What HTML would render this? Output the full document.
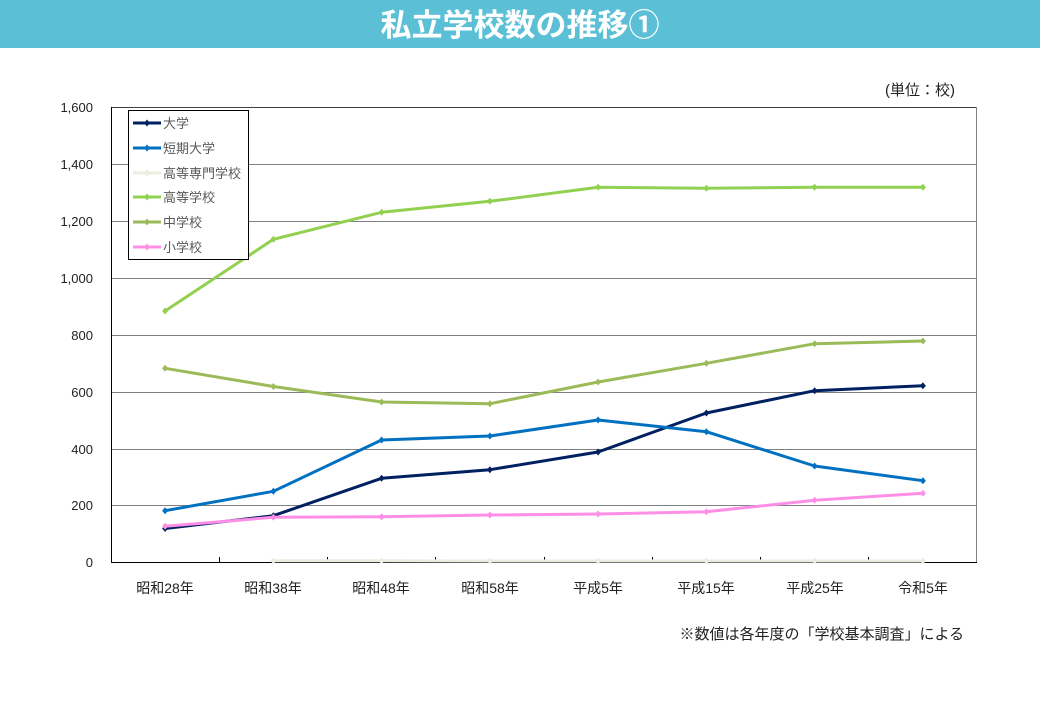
<!DOCTYPE html>
<html><head><meta charset="utf-8">
<style>
html,body{margin:0;padding:0;background:#fff;}
body{width:1040px;height:720px;overflow:hidden;font-family:"Liberation Sans","Noto Sans CJK JP",sans-serif;}
</style></head>
<body>
<svg width="1040" height="720" xmlns="http://www.w3.org/2000/svg" style="display:block;font-family:'Liberation Sans','Noto Sans CJK JP',sans-serif">
<rect x="0" y="0" width="1040" height="48" fill="#5BC0D6"/>
<text x="520" y="36" text-anchor="middle" font-size="31" font-weight="bold" fill="#fff">私立学校数の推移①</text>
<text x="955" y="95" text-anchor="end" font-size="15" fill="#222">(単位：校)</text>

<!-- gridlines -->
<g stroke="#808080" stroke-width="1">
<line x1="111" y1="164.5" x2="977" y2="164.5"/>
<line x1="111" y1="221.5" x2="977" y2="221.5"/>
<line x1="111" y1="278.5" x2="977" y2="278.5"/>
<line x1="111" y1="335.5" x2="977" y2="335.5"/>
<line x1="111" y1="392.5" x2="977" y2="392.5"/>
<line x1="111" y1="449.5" x2="977" y2="449.5"/>
<line x1="111" y1="505.5" x2="977" y2="505.5"/>
</g>
<line x1="111" y1="107.5" x2="977" y2="107.5" stroke="#404040" stroke-width="1"/>
<line x1="976.5" y1="107" x2="976.5" y2="562" stroke="#808080" stroke-width="1"/>
<line x1="111.5" y1="107" x2="111.5" y2="562" stroke="#000" stroke-width="1"/>
<line x1="111" y1="562.5" x2="977" y2="562.5" stroke="#000" stroke-width="1"/>
<g stroke="#000" stroke-width="1">
<line x1="219.5" y1="557" x2="219.5" y2="562"/>
<line x1="327.5" y1="557" x2="327.5" y2="562"/>
<line x1="435.5" y1="557" x2="435.5" y2="562"/>
<line x1="544.5" y1="557" x2="544.5" y2="562"/>
<line x1="652.5" y1="557" x2="652.5" y2="562"/>
<line x1="760.5" y1="557" x2="760.5" y2="562"/>
<line x1="868.5" y1="557" x2="868.5" y2="562"/>
</g>

<!-- y labels -->
<g font-size="13" fill="#222" text-anchor="end">
<text x="93" y="112">1,600</text>
<text x="93" y="169">1,400</text>
<text x="93" y="226">1,200</text>
<text x="93" y="283">1,000</text>
<text x="93" y="340">800</text>
<text x="93" y="397">600</text>
<text x="93" y="454">400</text>
<text x="93" y="510">200</text>
<text x="93" y="567">0</text>
</g>
<!-- x labels -->
<g font-size="14" fill="#222" text-anchor="middle">
<text x="165" y="593">昭和28年</text>
<text x="273" y="593">昭和38年</text>
<text x="381" y="593">昭和48年</text>
<text x="490" y="593">昭和58年</text>
<text x="598" y="593">平成5年</text>
<text x="706" y="593">平成15年</text>
<text x="815" y="593">平成25年</text>
<text x="923" y="593">令和5年</text>
</g>

<defs>
<path id="dm" d="M0,-3.5 L3,0 L0,3.5 L-3,0 Z"/>
</defs>

<!-- 大学 -->
<g fill="none" stroke="#002060" stroke-width="3" stroke-linejoin="round">
<polyline points="165.1,528.5 273.4,515.7 381.6,478.3 489.9,469.7 598.1,452 706.4,413 814.6,390.7 922.9,385.7"/>
</g>
<g fill="#002060">
<use href="#dm" x="165.1" y="528.5"/><use href="#dm" x="273.4" y="515.7"/><use href="#dm" x="381.6" y="478.3"/><use href="#dm" x="489.9" y="469.7"/><use href="#dm" x="598.1" y="452"/><use href="#dm" x="706.4" y="413"/><use href="#dm" x="814.6" y="390.7"/><use href="#dm" x="922.9" y="385.7"/>
</g>
<!-- 短期大学 -->
<g fill="none" stroke="#0070C0" stroke-width="3" stroke-linejoin="round">
<polyline points="165.1,510.7 273.4,491.3 381.6,440 489.9,436 598.1,420 706.4,431.7 814.6,466 922.9,480.7"/>
</g>
<g fill="#0070C0">
<use href="#dm" x="165.1" y="510.7"/><use href="#dm" x="273.4" y="491.3"/><use href="#dm" x="381.6" y="440"/><use href="#dm" x="489.9" y="436"/><use href="#dm" x="598.1" y="420"/><use href="#dm" x="706.4" y="431.7"/><use href="#dm" x="814.6" y="466"/><use href="#dm" x="922.9" y="480.7"/>
</g>
<!-- 高等専門学校 -->
<g fill="none" stroke="#EEECE1" stroke-width="3">
<polyline points="273.4,560.7 381.6,560.7 489.9,561 598.1,561 706.4,561 814.6,561 922.9,561"/>
</g>
<g fill="#EEECE1">
<use href="#dm" x="273.4" y="560.7"/><use href="#dm" x="381.6" y="560.7"/><use href="#dm" x="489.9" y="561"/><use href="#dm" x="598.1" y="561"/><use href="#dm" x="706.4" y="561"/><use href="#dm" x="814.6" y="561"/><use href="#dm" x="922.9" y="561"/>
</g>
<!-- 高等学校 -->
<g fill="none" stroke="#92D050" stroke-width="3" stroke-linejoin="round">
<polyline points="165.1,311 273.4,239.3 381.6,212.3 489.9,201.3 598.1,187.3 706.4,188.3 814.6,187.3 922.9,187.3"/>
</g>
<g fill="#92D050">
<use href="#dm" x="165.1" y="311"/><use href="#dm" x="273.4" y="239.3"/><use href="#dm" x="381.6" y="212.3"/><use href="#dm" x="489.9" y="201.3"/><use href="#dm" x="598.1" y="187.3"/><use href="#dm" x="706.4" y="188.3"/><use href="#dm" x="814.6" y="187.3"/><use href="#dm" x="922.9" y="187.3"/>
</g>
<!-- 中学校 -->
<g fill="none" stroke="#9BBB59" stroke-width="3" stroke-linejoin="round">
<polyline points="165.1,368.3 273.4,386.5 381.6,402 489.9,403.7 598.1,382 706.4,363.3 814.6,343.7 922.9,341"/>
</g>
<g fill="#9BBB59">
<use href="#dm" x="165.1" y="368.3"/><use href="#dm" x="273.4" y="386.5"/><use href="#dm" x="381.6" y="402"/><use href="#dm" x="489.9" y="403.7"/><use href="#dm" x="598.1" y="382"/><use href="#dm" x="706.4" y="363.3"/><use href="#dm" x="814.6" y="343.7"/><use href="#dm" x="922.9" y="341"/>
</g>
<!-- 小学校 -->
<g fill="none" stroke="#FF8FE6" stroke-width="3" stroke-linejoin="round">
<polyline points="165.1,526.3 273.4,517.3 381.6,516.7 489.9,515 598.1,514 706.4,511.7 814.6,500.3 922.9,493.3"/>
</g>
<g fill="#FF8FE6">
<use href="#dm" x="165.1" y="526.3"/><use href="#dm" x="273.4" y="517.3"/><use href="#dm" x="381.6" y="516.7"/><use href="#dm" x="489.9" y="515"/><use href="#dm" x="598.1" y="514"/><use href="#dm" x="706.4" y="511.7"/><use href="#dm" x="814.6" y="500.3"/><use href="#dm" x="922.9" y="493.3"/>
</g>

<!-- legend -->
<rect x="128.5" y="110.5" width="120" height="149" fill="#fff" stroke="#000" stroke-width="1"/>
<g stroke-width="3">
<line x1="133" y1="123" x2="161" y2="123" stroke="#002060"/>
<line x1="133" y1="148" x2="161" y2="148" stroke="#0070C0"/>
<line x1="133" y1="173" x2="161" y2="173" stroke="#EEECE1"/>
<line x1="133" y1="197" x2="161" y2="197" stroke="#92D050"/>
<line x1="133" y1="222" x2="161" y2="222" stroke="#9BBB59"/>
<line x1="133" y1="247" x2="161" y2="247" stroke="#FF8FE6"/>
</g>
<use href="#dm" x="147" y="123" fill="#002060"/>
<use href="#dm" x="147" y="148" fill="#0070C0"/>
<use href="#dm" x="147" y="173" fill="#EEECE1"/>
<use href="#dm" x="147" y="197" fill="#92D050"/>
<use href="#dm" x="147" y="222" fill="#9BBB59"/>
<use href="#dm" x="147" y="247" fill="#FF8FE6"/>
<g font-size="13" fill="#595959">
<text x="163" y="128">大学</text>
<text x="163" y="153">短期大学</text>
<text x="163" y="178">高等専門学校</text>
<text x="163" y="202">高等学校</text>
<text x="163" y="227">中学校</text>
<text x="163" y="252">小学校</text>
</g>

<text x="964" y="639" text-anchor="end" font-size="15" fill="#222">※数値は各年度の「学校基本調査」による</text>
</svg>
</body></html>
